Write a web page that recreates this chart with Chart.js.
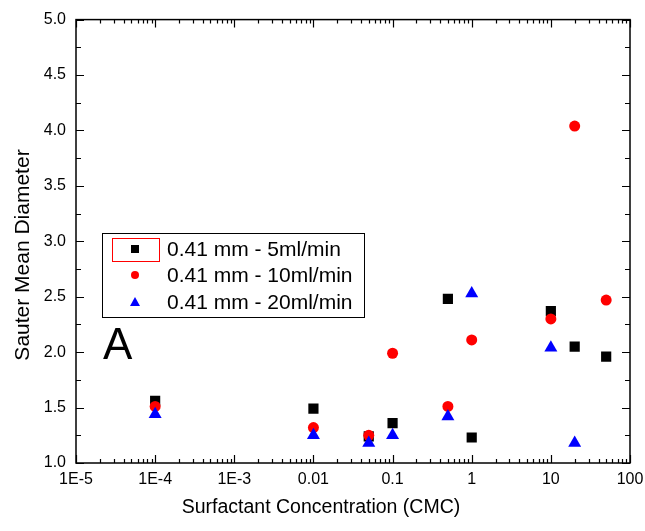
<!DOCTYPE html>
<html lang="en">
<head>
    <meta charset="UTF-8">
    <title>Sauter Mean Diameter vs Surfactant Concentration</title>
    <script src="https://cdn.jsdelivr.net/npm/chart.js"></script>
    <style>
        body { margin: 0; background: #fff; }
    </style>
</head>
<body>
<canvas id="sauterChart" width="645" height="531"></canvas>
<script>
    // data
    const xTickValues = [1e-5, 1e-4, 1e-3, 0.01, 0.1, 1, 10, 100];
    const xTickLabels = ['1E-5', '1E-4', '1E-3', '0.01', '0.1', '1', '10', '100'];

    const conc5 = [1e-4, 0.01, 0.05, 0.1, 0.5, 1, 10, 20, 50];
    const diam5 = [1.56, 1.49, 1.24, 1.36, 2.48, 1.23, 2.37, 2.05, 1.96];

    const conc10 = [1e-4, 0.01, 0.05, 0.1, 0.5, 1, 10, 20, 50];
    const diam10 = [1.51, 1.32, 1.25, 1.99, 1.51, 2.11, 2.30, 4.04, 2.47];

    const conc20 = [1e-4, 0.01, 0.05, 0.1, 0.5, 1, 10, 20];
    const diam20 = [1.44, 1.25, 1.18, 1.25, 1.42, 2.53, 2.04, 1.18];

    const seriesLabels = ['0.41 mm - 5ml/min', '0.41 mm - 10ml/min', '0.41 mm - 20ml/min'];
    const xTitle = 'Surfactant Concentration (CMC)';
    const yTitle = 'Sauter Mean Diameter';

    const FONT = "'Liberation Sans', Arial, sans-serif";

    function toPoints(xs, ys) {
        return xs.map((x, i) => ({ x: x, y: ys[i] }));
    }

    // frame with inward ticks on all four sides (Origin style)
    const framePlugin = {
        id: 'frame',
        beforeDatasetsDraw(chart) {
            const ctx = chart.ctx;
            const a = chart.chartArea;
            const xs = chart.scales.x;
            const ys = chart.scales.y;
            ctx.save();
            ctx.strokeStyle = '#000';
            ctx.lineWidth = 1.5;
            ctx.strokeRect(a.left, a.top, a.right - a.left, a.bottom - a.top);
            ctx.lineWidth = 1.2;
            ctx.beginPath();
            // x ticks
            for (let d = -5; d <= 2; d++) {
                const major = Math.pow(10, d);
                const px = Math.round(xs.getPixelForValue(major)) + 0.5;
                ctx.moveTo(px, a.bottom); ctx.lineTo(px, a.bottom - 8);
                ctx.moveTo(px, a.top); ctx.lineTo(px, a.top + 8);
                if (d === 2) break;
                for (let k = 2; k <= 9; k++) {
                    const mx = Math.round(xs.getPixelForValue(k * major)) + 0.5;
                    ctx.moveTo(mx, a.bottom); ctx.lineTo(mx, a.bottom - 4);
                    ctx.moveTo(mx, a.top); ctx.lineTo(mx, a.top + 4);
                }
            }
            // y ticks
            for (let v = 1; v <= 5.001; v += 0.25) {
                const py = Math.round(ys.getPixelForValue(v)) + 0.5;
                const len = (Math.abs(v * 2 - Math.round(v * 2)) < 1e-6) ? 8 : 5;
                ctx.moveTo(a.left, py); ctx.lineTo(a.left + len, py);
                ctx.moveTo(a.right, py); ctx.lineTo(a.right - len, py);
            }
            ctx.stroke();
            ctx.restore();
        },
        afterDraw(chart) {
            const ctx = chart.ctx;
            ctx.save();
            // axis titles (Origin places them off-centre)
            ctx.fillStyle = '#000';
            ctx.textAlign = 'center';
            ctx.textBaseline = 'alphabetic';
            ctx.font = '19.5px ' + FONT;
            ctx.fillText(xTitle, 321, 513);
            ctx.save();
            ctx.translate(29, 255);
            ctx.rotate(-Math.PI / 2);
            ctx.font = '21px ' + FONT;
            ctx.fillText(yTitle, 0, 0);
            ctx.restore();

            // legend box
            ctx.strokeStyle = '#000';
            ctx.lineWidth = 1;
            ctx.strokeRect(102.5, 233.5, 262, 84);
            ctx.strokeStyle = '#ff0000';
            ctx.strokeRect(112.5, 238.5, 47, 23);
            const rows = [249, 275, 302];
            const sx = 135;
            ctx.fillStyle = '#000';
            ctx.fillRect(sx - 4, rows[0] - 4, 8, 8);
            ctx.fillStyle = '#ff0000';
            ctx.beginPath();
            ctx.arc(sx, rows[1], 4, 0, Math.PI * 2);
            ctx.fill();
            ctx.fillStyle = '#0000ff';
            ctx.beginPath();
            ctx.moveTo(sx, rows[2] - 5);
            ctx.lineTo(sx + 5, rows[2] + 4);
            ctx.lineTo(sx - 5, rows[2] + 4);
            ctx.closePath();
            ctx.fill();

            ctx.fillStyle = '#000';
            ctx.font = '21px ' + FONT;
            ctx.textBaseline = 'middle';
            ctx.textAlign = 'left';
            seriesLabels.forEach((t, i) => ctx.fillText(t, 167, rows[i] + 1));

            // panel letter
            ctx.font = '44px ' + FONT;
            ctx.textBaseline = 'alphabetic';
            ctx.fillText('A', 103, 359);
            ctx.restore();
        }
    };

    const ctx = document.getElementById('sauterChart').getContext('2d');
    const sauterChart = new Chart(ctx, {
        type: 'scatter',
        data: {
            datasets: [
                {
                    label: seriesLabels[0],
                    data: toPoints(conc5, diam5),
                    pointStyle: 'rect',
                    pointRadius: 7.2,
                    backgroundColor: '#000',
                    borderWidth: 0,
                    order: 3
                },
                {
                    label: seriesLabels[1],
                    data: toPoints(conc10, diam10),
                    pointStyle: 'circle',
                    pointRadius: 5.5,
                    backgroundColor: '#ff0000',
                    borderWidth: 0,
                    order: 2
                },
                {
                    label: seriesLabels[2],
                    data: toPoints(conc20, diam20),
                    pointStyle: 'triangle',
                    pointRadius: 7.5,
                    backgroundColor: '#0000ff',
                    borderWidth: 0,
                    order: 1
                }
            ]
        },
        options: {
            responsive: false,
            animation: false,
            layout: { padding: { top: 18, right: 15, bottom: 0, left: 0 } },
            plugins: {
                legend: { display: false },
                tooltip: { enabled: false }
            },
            scales: {
                x: {
                    type: 'logarithmic',
                    min: 1e-5,
                    max: 100,
                    grid: { display: false, drawTicks: false },
                    border: { display: false },
                    afterBuildTicks: (scale) => {
                        scale.ticks = xTickValues.map(v => ({ value: v }));
                    },
                    afterFit: (scale) => {
                        scale.height = 68;
                        scale.paddingLeft = 0;
                        scale.paddingRight = 0;
                    },
                    ticks: {
                        autoSkip: false,
                        maxRotation: 0,
                        padding: 7,
                        color: '#000',
                        font: { family: FONT, size: 16 },
                        callback: (v, i) => xTickLabels[i]
                    }
                },
                y: {
                    min: 1,
                    max: 5,
                    grid: { display: false, drawTicks: false },
                    border: { display: false },
                    afterFit: (scale) => { scale.width = 76; },
                    ticks: {
                        stepSize: 0.5,
                        padding: 10,
                        color: '#000',
                        font: { family: FONT, size: 16 },
                        callback: (v) => Number(v).toFixed(1)
                    }
                }
            }
        },
        plugins: [framePlugin]
    });
</script>
</body>
</html>
